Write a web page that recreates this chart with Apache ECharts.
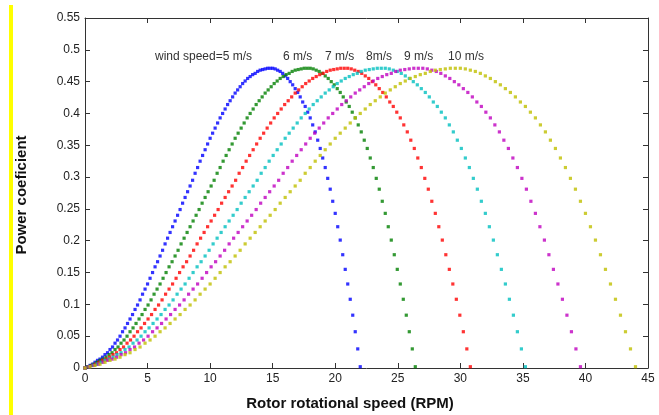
<!DOCTYPE html>
<html>
<head>
<meta charset="utf-8">
<script src="https://cdn.jsdelivr.net/npm/echarts@6/dist/echarts.min.js"></script>
<style>
html,body{margin:0;padding:0;background:#fff;}
#chart{width:659px;height:415px;}
</style>
</head>
<body>
<div id="chart"></div>
<script>
// Rotor speed (RPM) sample positions for each wind speed
const rpm5 = [0,0.2,0.4,0.6,0.8,1,1.2,1.4,1.6,1.8,2,2.2,2.4,2.6,2.8,3,3.2,3.4,3.6,3.8,4,4.2,4.4,4.6,4.8,5,5.2,5.4,5.6,5.8,6,6.2,6.4,6.6,6.8,7,7.2,7.4,7.6,7.8,8,8.2,8.4,8.6,8.8,9,9.2,9.4,9.6,9.8,10,10.2,10.4,10.6,10.8,11,11.2,11.4,11.6,11.8,12,12.2,12.4,12.6,12.8,13,13.2,13.4,13.6,13.8,14,14.2,14.4,14.6,14.8,15,15.2,15.4,15.6,15.8,16,16.2,16.4,16.6,16.8,17,17.2,17.4,17.6,17.8,18,18.2,18.4,18.6,18.8,19,19.2,19.4,19.6,19.8,20,20.2,20.4,20.6,20.8,21,21.2,21.4,21.6,21.8,22];
const rpm6 = [0,0.24,0.48,0.72,0.96,1.2,1.44,1.68,1.92,2.16,2.4,2.64,2.88,3.12,3.36,3.6,3.84,4.08,4.32,4.56,4.8,5.04,5.28,5.52,5.76,6,6.24,6.48,6.72,6.96,7.2,7.44,7.68,7.92,8.16,8.4,8.64,8.88,9.12,9.36,9.6,9.84,10.08,10.32,10.56,10.8,11.04,11.28,11.52,11.76,12,12.24,12.48,12.72,12.96,13.2,13.44,13.68,13.92,14.16,14.4,14.64,14.88,15.12,15.36,15.6,15.84,16.08,16.32,16.56,16.8,17.04,17.28,17.52,17.76,18,18.24,18.48,18.72,18.96,19.2,19.44,19.68,19.92,20.16,20.4,20.64,20.88,21.12,21.36,21.6,21.84,22.08,22.32,22.56,22.8,23.04,23.28,23.52,23.76,24,24.24,24.48,24.72,24.96,25.2,25.44,25.68,25.92,26.16,26.4];
const rpm7 = [0,0.28,0.56,0.84,1.12,1.4,1.68,1.96,2.24,2.52,2.8,3.08,3.36,3.64,3.92,4.2,4.48,4.76,5.04,5.32,5.6,5.88,6.16,6.44,6.72,7,7.28,7.56,7.84,8.12,8.4,8.68,8.96,9.24,9.52,9.8,10.08,10.36,10.64,10.92,11.2,11.48,11.76,12.04,12.32,12.6,12.88,13.16,13.44,13.72,14,14.28,14.56,14.84,15.12,15.4,15.68,15.96,16.24,16.52,16.8,17.08,17.36,17.64,17.92,18.2,18.48,18.76,19.04,19.32,19.6,19.88,20.16,20.44,20.72,21,21.28,21.56,21.84,22.12,22.4,22.68,22.96,23.24,23.52,23.8,24.08,24.36,24.64,24.92,25.2,25.48,25.76,26.04,26.32,26.6,26.88,27.16,27.44,27.72,28,28.28,28.56,28.84,29.12,29.4,29.68,29.96,30.24,30.52,30.8];
const rpm8 = [0,0.32,0.64,0.96,1.28,1.6,1.92,2.24,2.56,2.88,3.2,3.52,3.84,4.16,4.48,4.8,5.12,5.44,5.76,6.08,6.4,6.72,7.04,7.36,7.68,8,8.32,8.64,8.96,9.28,9.6,9.92,10.24,10.56,10.88,11.2,11.52,11.84,12.16,12.48,12.8,13.12,13.44,13.76,14.08,14.4,14.72,15.04,15.36,15.68,16,16.32,16.64,16.96,17.28,17.6,17.92,18.24,18.56,18.88,19.2,19.52,19.84,20.16,20.48,20.8,21.12,21.44,21.76,22.08,22.4,22.72,23.04,23.36,23.68,24,24.32,24.64,24.96,25.28,25.6,25.92,26.24,26.56,26.88,27.2,27.52,27.84,28.16,28.48,28.8,29.12,29.44,29.76,30.08,30.4,30.72,31.04,31.36,31.68,32,32.32,32.64,32.96,33.28,33.6,33.92,34.24,34.56,34.88,35.2];
const rpm9 = [0,0.36,0.72,1.08,1.44,1.8,2.16,2.52,2.88,3.24,3.6,3.96,4.32,4.68,5.04,5.4,5.76,6.12,6.48,6.84,7.2,7.56,7.92,8.28,8.64,9,9.36,9.72,10.08,10.44,10.8,11.16,11.52,11.88,12.24,12.6,12.96,13.32,13.68,14.04,14.4,14.76,15.12,15.48,15.84,16.2,16.56,16.92,17.28,17.64,18,18.36,18.72,19.08,19.44,19.8,20.16,20.52,20.88,21.24,21.6,21.96,22.32,22.68,23.04,23.4,23.76,24.12,24.48,24.84,25.2,25.56,25.92,26.28,26.64,27,27.36,27.72,28.08,28.44,28.8,29.16,29.52,29.88,30.24,30.6,30.96,31.32,31.68,32.04,32.4,32.76,33.12,33.48,33.84,34.2,34.56,34.92,35.28,35.64,36,36.36,36.72,37.08,37.44,37.8,38.16,38.52,38.88,39.24,39.6];
const rpm10 = [0,0.4,0.8,1.2,1.6,2,2.4,2.8,3.2,3.6,4,4.4,4.8,5.2,5.6,6,6.4,6.8,7.2,7.6,8,8.4,8.8,9.2,9.6,10,10.4,10.8,11.2,11.6,12,12.4,12.8,13.2,13.6,14,14.4,14.8,15.2,15.6,16,16.4,16.8,17.2,17.6,18,18.4,18.8,19.2,19.6,20,20.4,20.8,21.2,21.6,22,22.4,22.8,23.2,23.6,24,24.4,24.8,25.2,25.6,26,26.4,26.8,27.2,27.6,28,28.4,28.8,29.2,29.6,30,30.4,30.8,31.2,31.6,32,32.4,32.8,33.2,33.6,34,34.4,34.8,35.2,35.6,36,36.4,36.8,37.2,37.6,38,38.4,38.8,39.2,39.6,40,40.4,40.8,41.2,41.6,42,42.4,42.8,43.2,43.6,44];

// Power coefficient at each sample (same tip-speed-ratio samples on every curve)
const cpValues = [0.000,0.002,0.004,0.006,0.009,0.012,0.014,0.017,0.021,0.024,0.029,0.033,0.039,0.044,0.050,0.057,0.063,0.070,0.077,0.084,0.092,0.099,0.107,0.116,0.124,0.132,0.141,0.150,0.159,0.167,0.176,0.185,0.195,0.204,0.213,0.222,0.231,0.240,0.249,0.259,0.268,0.277,0.286,0.295,0.306,0.315,0.325,0.334,0.343,0.352,0.361,0.369,0.377,0.385,0.393,0.400,0.407,0.414,0.420,0.426,0.432,0.437,0.442,0.447,0.451,0.455,0.458,0.461,0.463,0.466,0.468,0.469,0.470,0.471,0.471,0.471,0.470,0.468,0.466,0.463,0.459,0.455,0.450,0.445,0.439,0.433,0.426,0.418,0.411,0.402,0.393,0.382,0.371,0.358,0.345,0.330,0.315,0.298,0.281,0.262,0.243,0.222,0.201,0.178,0.155,0.132,0.108,0.083,0.057,0.030,0.002];

const windSpeeds = ['5 m/s','6 m/s','7 m/s','8 m/s','9 m/s','10 m/s'];
const curveLabels = ['wind speed=5 m/s','6 m/s','7 m/s','8m/s','9 m/s','10 m/s'];
const curveColors = ['#0000ff','#008000','#ff0000','#00bfbf','#bf00bf','#bfbf00'];
const rpmSets = [rpm5, rpm6, rpm7, rpm8, rpm9, rpm10];
const labelX = [155, 283, 325, 366, 404, 448];

const FONT = '"Liberation Sans", Arial, sans-serif';
const chart = echarts.init(document.getElementById('chart'), null, {renderer:'canvas'});

const series = rpmSets.map((rpm, k) => ({
  name: windSpeeds[k],
  type: 'scatter',
  symbol: 'rect',
  symbolSize: 3.2,
  silent: true,
  itemStyle: {color: curveColors[k]},
  data: rpm.map((x, i) => [x, cpValues[i]])
}));

const axisLineStyle = {color:'#333', width:1};
const baseX = {
  type:'value', min:0, max:45, interval:5,
  axisLine:{show:true, onZero:false, lineStyle:axisLineStyle},
  axisTick:{show:true, inside:true, length:5, lineStyle:axisLineStyle},
  splitLine:{show:false}
};
const baseY = {
  type:'value', min:0, max:0.55, interval:0.05,
  axisLine:{show:true, onZero:false, lineStyle:axisLineStyle},
  axisTick:{show:true, inside:true, length:5, lineStyle:axisLineStyle},
  splitLine:{show:false}
};

const graphics = [
  {type:'rect', shape:{x:9, y:5, width:4, height:410}, style:{fill:'#ffff00'}, silent:true},
  {type:'text', x:350, y:404, style:{text:'Rotor rotational speed (RPM)', font:'bold 15px ' + FONT, fill:'#111', textAlign:'center', textVerticalAlign:'middle'}},
  {type:'text', x:22, y:195, rotation:Math.PI/2, style:{text:'Power coeficient', font:'bold 15px ' + FONT, fill:'#111', textAlign:'center', textVerticalAlign:'middle'}}
];
curveLabels.forEach((t, k) => {
  graphics.push({type:'text', x:labelX[k], y:57, style:{text:t, font:'12px ' + FONT, fill:'#333', textAlign:'left', textVerticalAlign:'middle'}});
});

chart.setOption({
  animation:false,
  backgroundColor:'#ffffff',
  grid:{left:85, right:11, top:18, bottom:47, containLabel:false},
  xAxis:[
    Object.assign({}, baseX, {position:'bottom', axisLabel:{fontSize:12, color:'#222', fontFamily:FONT, margin:5}}),
    Object.assign({}, baseX, {position:'top', axisLabel:{show:false}})
  ],
  yAxis:[
    Object.assign({}, baseY, {position:'left', axisLabel:{fontSize:12, color:'#222', fontFamily:FONT, margin:5,
      formatter: v => (Math.round(v*100)/100).toString()}}),
    Object.assign({}, baseY, {position:'right', axisLabel:{show:false}})
  ],
  series: series,
  graphic: graphics
});
</script>
</body>
</html>
